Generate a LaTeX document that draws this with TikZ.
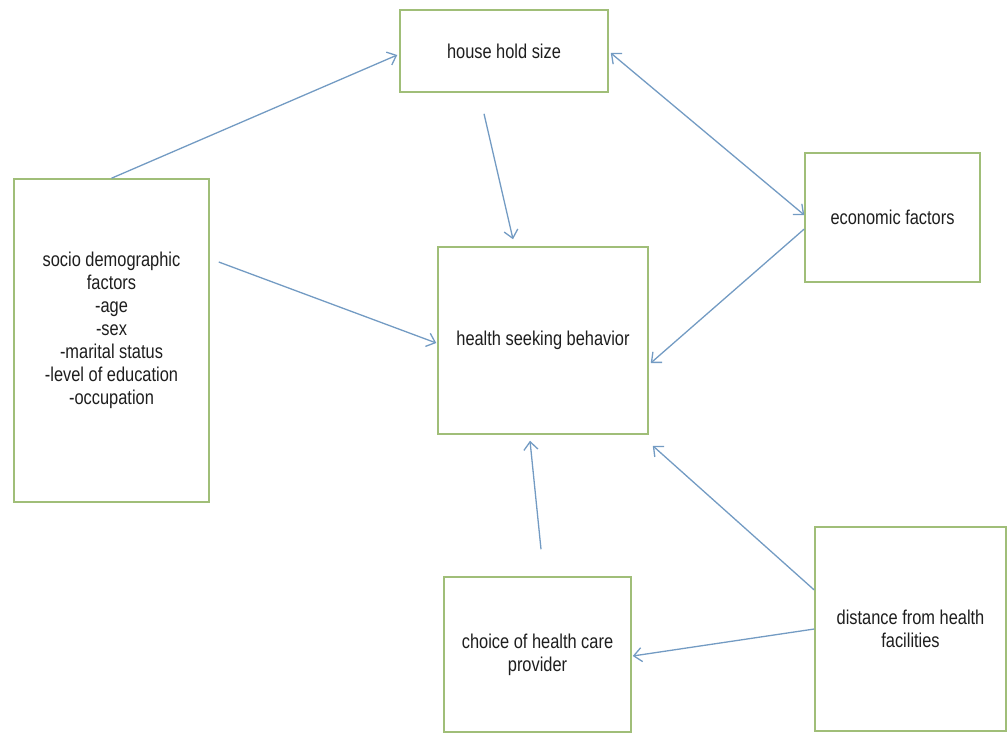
\documentclass[tikz,border=0pt]{standalone}
\usepackage{fontspec}
\setmainfont{Liberation Sans}[FakeStretch=0.82]
\usetikzlibrary{arrows.meta}
\definecolor{boxgreen}{RGB}{160,190,120}
\definecolor{linkblue}{RGB}{115,155,195}
\definecolor{textgray}{RGB}{30,30,30}

\begin{document}
\begin{tikzpicture}
		[x=1pt,y=-1pt,
		FactorBox/.style={rectangle,draw=boxgreen,line width=1.5pt,fill=white,text=textgray,
			align=center,inner sep=0pt,font=\fontsize{20}{23}\selectfont},
		FactorText/.style={text=textgray,align=center,inner sep=0pt,font=\fontsize{20}{23}\selectfont},
		Link/.style={draw=linkblue,line width=1.3pt,-{Straight Barb[length=8pt,width=14pt]}},
		LinkBoth/.style={draw=linkblue,line width=1.3pt,{Straight Barb[length=8pt,width=14pt]}-{Straight Barb[length=8pt,width=14pt]}}]

		% 画布大小
		\useasboundingbox (0,0) rectangle (1008,733);

		% 各因素方框
		\node[FactorBox,minimum width=208pt,minimum height=82pt] (hh) at (504,51) {house hold size};
		\node[FactorBox,minimum width=195pt,minimum height=323pt] (socio) at (111.5,340.5) {};
		\node[FactorText] (socio_text) at (111.5,330)
			{socio demographic\\factors\\-age\\-sex\\-marital status\\-level of education\\-occupation};
		\node[FactorBox,minimum width=210pt,minimum height=187pt] (hsb) at (543,340.5) {health seeking behavior};
		\node[FactorBox,minimum width=175pt,minimum height=129pt] (econ) at (892.5,217.5) {economic factors};
		\node[FactorBox,minimum width=191pt,minimum height=204pt] (dist) at (910.5,629) {distance from health\\facilities};
		\node[FactorBox,minimum width=187pt,minimum height=155pt] (choice) at (537.5,654.5) {choice of health care\\provider};

		% 连线
		\draw[Link] (socio.north) -- ([xshift=-2pt,yshift=-4pt]hh.west);
		\draw[Link] ([xshift=-20pt,yshift=-21pt]hh.south) -- ([xshift=-30pt,yshift=7pt]hsb.north);
		\draw[LinkBoth] ([xshift=2pt,yshift=-2pt]hh.east) -- ([yshift=2.5pt]econ.west);
		\draw[Link] ([yshift=-11.5pt]econ.west) -- ([xshift=2pt,yshift=-22.5pt]hsb.east);
		\draw[Link] ([xshift=9pt,yshift=78.5pt]socio.east) -- ([xshift=-1pt,yshift=-2.5pt]hsb.west);
		\draw[Link] ([xshift=3.5pt,yshift=27pt]choice.north) -- ([xshift=-13pt,yshift=-6pt]hsb.south);
		\draw[Link] ([yshift=39pt]dist.west) -- ([xshift=4pt,yshift=-11pt]hsb.south east);
		\draw[Link] (dist.west) -- ([xshift=1pt,yshift=-1.5pt]choice.east);

	\end{tikzpicture}
\end{document}
